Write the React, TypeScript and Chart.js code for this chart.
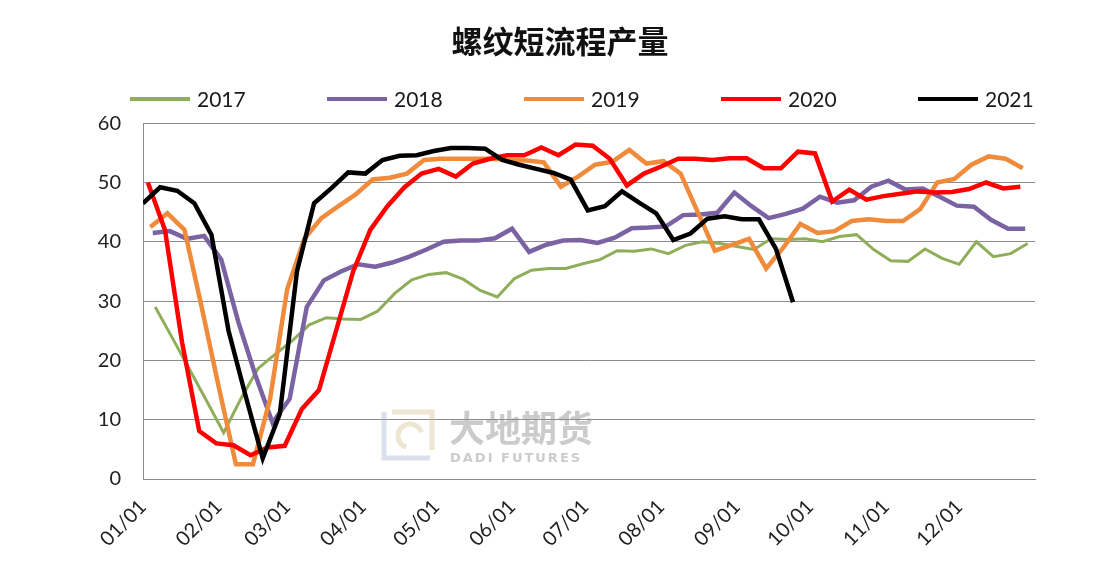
import React, { useEffect, useRef } from "react";
import { Chart, registerables } from "chart.js";

Chart.register(...registerables);

const chartTitle = "螺纹短流程产量";
const seriesLabels = ["2017", "2018", "2019", "2020", "2021"];
const seriesColors = ["#8fae5a", "#7a62a3", "#f08b3c", "#ff0000", "#000000"];
const seriesWidths = [3, 4.5, 4.5, 4.5, 4.5];
// day-of-year (0 = Jan 1) of each year's first weekly reading
const firstReadingDay = [5, 4, 3, 2, 0];
const monthTickDays = [0, 31, 59, 90, 120, 151, 181, 212, 243, 273, 304, 334];
const monthTickLabels = ["01/01", "02/01", "03/01", "04/01", "05/01", "06/01", "07/01", "08/01", "09/01", "10/01", "11/01", "12/01"];
const yMin = 0;
const yMax = 60;
const yStep = 10;

const v2017 = [29, 23.8, 18.5, 13.2, 7.8, 13.5, 18.6, 21, 23.3, 26, 27.2, 27, 26.9, 28.3, 31.3, 33.6, 34.5, 34.8, 33.7, 31.8, 30.7, 33.8, 35.2, 35.5, 35.5, 36.3, 37, 38.5, 38.4, 38.8, 38, 39.4, 40, 39.7, 39.2, 38.7, 40.5, 40.4, 40.5, 40, 40.9, 41.2, 38.7, 36.8, 36.7, 38.8, 37.2, 36.2, 40, 37.5, 38, 39.7];
const v2018 = [41.5, 41.8, 40.5, 41, 37, 26.5, 17.5, 9.5, 13.5, 29, 33.5, 35, 36.2, 35.8, 36.5, 37.5, 38.7, 40, 40.2, 40.2, 40.6, 42.2, 38.3, 39.5, 40.2, 40.3, 39.8, 40.7, 42.3, 42.4, 42.6, 44.5, 44.6, 44.9, 48.3, 46, 44, 44.7, 45.6, 47.6, 46.6, 47, 49.3, 50.3, 48.8, 49, 47.6, 46.1, 45.9, 43.7, 42.2, 42.2];
const v2019 = [42.5, 44.8, 42, 29, 15.5, 2.5, 2.5, 13.5, 32, 40.5, 44, 46, 48, 50.5, 50.8, 51.5, 53.8, 54, 54, 54, 54, 53.8, 53.7, 53.4, 49.3, 51, 53, 53.5, 55.5, 53.2, 53.6, 51.5, 45, 38.5, 39.5, 40.5, 35.5, 39, 43, 41.5, 41.8, 43.5, 43.8, 43.5, 43.5, 45.5, 50, 50.6, 53, 54.4, 54, 52.4];
const v2020 = [50, 42, 23, 8.1, 6, 5.7, 4, 5.3, 5.6, 11.8, 15, 25, 35, 42, 46, 49.2, 51.5, 52.3, 51, 53.2, 54, 54.6, 54.6, 55.9, 54.6, 56.4, 56.2, 54, 49.5, 51.5, 52.7, 54, 54, 53.8, 54.1, 54.1, 52.4, 52.4, 55.2, 54.9, 46.8, 48.8, 47.1, 47.7, 48.1, 48.5, 48.3, 48.4, 48.9, 50, 49, 49.3];
const v2021 = [46.5, 49.2, 48.6, 46.5, 41.2, 25, 14, 3.5, 11, 35, 46.5, 49, 51.7, 51.5, 53.8, 54.5, 54.6, 55.3, 55.8, 55.8, 55.7, 53.8, 53, 52.3, 51.6, 50.5, 45.3, 46, 48.5, 46.6, 44.8, 40.3, 41.4, 43.9, 44.3, 43.8, 43.8, 38.8, 29.8];

const seriesValues = [v2017, v2018, v2019, v2020, v2021];

const LEGEND_X0 = 130;
const LEGEND_STEP = 197;
const LEGEND_Y = 99;

const legendPlugin = {
  id: "yearLegend",
  afterDraw(chart: any) {
    const ctx = chart.ctx;
    ctx.save();
    chart.data.datasets.forEach((ds: any, i: number) => {
      const x0 = LEGEND_X0 + i * LEGEND_STEP;
      ctx.strokeStyle = ds.borderColor;
      ctx.lineWidth = 4;
      ctx.lineCap = "butt";
      ctx.beginPath();
      ctx.moveTo(x0, LEGEND_Y);
      ctx.lineTo(x0 + 60, LEGEND_Y);
      ctx.stroke();
      ctx.fillStyle = "#1a1a1a";
      ctx.font = "21px Lato";
      ctx.textAlign = "left";
      ctx.textBaseline = "middle";
      ctx.fillText(ds.label, x0 + 67, LEGEND_Y + 1);
    });
    ctx.restore();
  },
};

const watermarkPlugin = {
  id: "watermark",
  beforeDatasetsDraw(chart: any) {
    const ctx = chart.ctx;
    ctx.save();
    // logo mark
    ctx.lineWidth = 5;
    ctx.strokeStyle = "rgba(150,165,200,0.35)";
    ctx.beginPath();
    ctx.moveTo(384, 412);
    ctx.lineTo(384, 458);
    ctx.lineTo(430, 458);
    ctx.stroke();
    ctx.strokeStyle = "rgba(205,180,130,0.35)";
    ctx.beginPath();
    ctx.moveTo(392, 412);
    ctx.lineTo(432, 412);
    ctx.lineTo(432, 450);
    ctx.stroke();
    ctx.beginPath();
    ctx.arc(410, 436, 12, Math.PI * 0.6, Math.PI * 1.9);
    ctx.stroke();
    // text
    ctx.fillStyle = "rgba(140,140,140,0.45)";
    ctx.font = "bold 36px 'Noto Sans CJK SC'";
    ctx.textAlign = "left";
    ctx.textBaseline = "alphabetic";
    ctx.fillText("大地期货", 449, 442);
    ctx.font = "bold 13px 'DejaVu Sans'";
    (ctx as any).letterSpacing = "2px";
    ctx.fillText("DADI FUTURES", 450, 462);
    ctx.restore();
  },
};

export default function App() {
  const canvasRef = useRef<HTMLCanvasElement | null>(null);

  useEffect(() => {
    if (!canvasRef.current) return;
    const datasets = seriesLabels.map((label, i) => ({
      label,
      data: seriesValues[i].map((y, k) => ({ x: firstReadingDay[i] + 7 * k, y })),
      borderColor: seriesColors[i],
      backgroundColor: seriesColors[i],
      borderWidth: seriesWidths[i],
      pointRadius: 0,
      tension: 0,
      fill: false,
      order: seriesLabels.length - i,
    }));

    const chart = new Chart(canvasRef.current, {
      type: "line",
      data: { datasets },
      plugins: [watermarkPlugin, legendPlugin],
      options: {
        animation: false,
        responsive: true,
        maintainAspectRatio: false,
        layout: { padding: { left: 85, right: 70, top: 0, bottom: 0 } },
        plugins: {
          legend: { display: false },
          tooltip: { enabled: false },
          title: {
            display: true,
            text: chartTitle,
            color: "#111",
            font: { family: "'Noto Sans CJK SC'", size: 31, weight: "bold", lineHeight: 1.2 },
            padding: { top: 23, bottom: 63 },
          },
        },
        scales: {
          x: {
            type: "linear",
            min: 0,
            max: 365,
            afterBuildTicks: (scale: any) => {
              scale.ticks = monthTickDays.map((v) => ({ value: v }));
            },
            afterFit: (scale: any) => {
              scale.height = 86;
            },
            grid: { display: false, drawTicks: false },
            border: { display: true, color: "#8c8c8c", width: 1 },
            ticks: {
              autoSkip: false,
              minRotation: 45,
              maxRotation: 45,
              padding: 16,
              color: "#222",
              font: { family: "Lato", size: 20 },
              callback: (_v: any, idx: number) => monthTickLabels[idx],
            },
          },
          y: {
            min: yMin,
            max: yMax,
            afterFit: (scale: any) => {
              scale.width = 58;
            },
            grid: { color: "#8c8c8c", lineWidth: 1, drawTicks: false },
            border: { display: true, color: "#8c8c8c", width: 1 },
            ticks: {
              stepSize: yStep,
              padding: 22,
              color: "#222",
              font: { family: "Lato", size: 20 },
            },
          },
        },
      },
    });
    return () => chart.destroy();
  }, []);

  return (
    <div style={{ position: "fixed", left: 0, top: 0, width: 1105, height: 565, background: "#fff" }}>
      <canvas ref={canvasRef} />
    </div>
  );
}
